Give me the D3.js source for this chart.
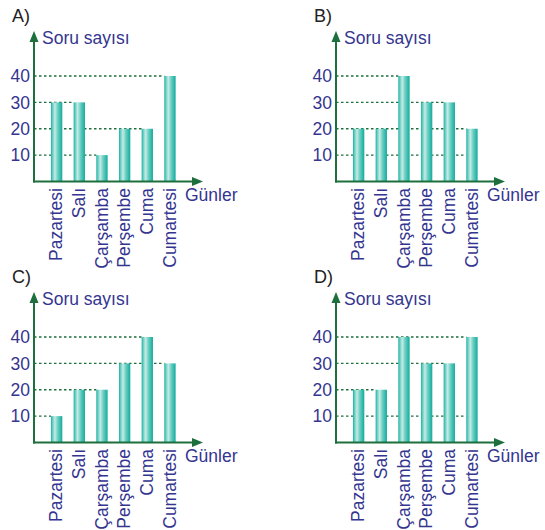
<!DOCTYPE html>
<html>
<head>
<meta charset="utf-8">
<script src="https://cdn.jsdelivr.net/npm/d3@7"></script>
<style>
  body { margin: 0; background: #fff; }
  svg { display: block; font-family: "Liberation Sans", Arial, sans-serif; }
</style>
</head>
<body>
<svg id="chart" width="545" height="530"></svg>
<script>
const days = ['Pazartesi', 'Salı', 'Çarşamba', 'Perşembe', 'Cuma', 'Cumartesi'];
const panelNames = ['A)', 'B)', 'C)', 'D)'];
const valuesA = [30, 30, 10, 20, 20, 40];
const valuesB = [20, 20, 40, 30, 30, 20];
const valuesC = [10, 20, 20, 30, 40, 30];
const valuesD = [20, 20, 40, 30, 30, 40];
const yTicks = [10, 20, 30, 40];

const ink = '#34358f';
const green = '#1d6f3d';
const fs = 17.5;

const svg = d3.select('#chart');

// bar shading, dark teal edges with a light stripe
const grad = svg.append('defs').append('linearGradient')
  .attr('id', 'bar').attr('x1', 0).attr('x2', 1).attr('y1', 0).attr('y2', 0);
[[0, '#17b0a2'], [0.12, '#5ccabd'], [0.35, '#c6ebe6'], [0.6, '#6ccfc3'], [1, '#12ab9d']]
  .forEach(([o, c]) => grad.append('stop').attr('offset', o).attr('stop-color', c));

const ax = 34, base = 181.5;
const x = d3.scaleBand().domain(days).range([ax + 11.3, ax + 147.3]).paddingInner(0.5).paddingOuter(0.25);
const y = d3.scaleLinear().domain([0, 40]).range([base, 76]);

const drawPanel = function(g, name, vals) {
  g.append('text').attr('x', 12).attr('y', 22)
    .attr('font-size', 18).attr('fill', '#222').text(name);

  // dotted lines run to the last bar of that height, otherwise to the last bar
  yTicks.forEach(t => {
    let idx = vals.lastIndexOf(t);
    if (idx < 0) idx = days.length - 1;
    g.append('line')
      .attr('x1', ax).attr('x2', x(days[idx]))
      .attr('y1', y(t)).attr('y2', y(t))
      .attr('stroke', green).attr('stroke-width', 1.4)
      .attr('stroke-dasharray', '2.5,2.5');
  });

  g.selectAll('rect.bar')
    .data(vals)
    .enter()
    .append('rect')
    .attr('class', 'bar')
    .attr('x', (d, i) => x(days[i]))
    .attr('width', x.bandwidth())
    .attr('y', d => y(d))
    .attr('height', d => base - y(d))
    .attr('fill', 'url(#bar)');

  g.selectAll('text.tick')
    .data(yTicks)
    .enter()
    .append('text')
    .attr('class', 'tick')
    .attr('x', ax - 4).attr('y', d => y(d))
    .attr('dy', '0.36em')
    .attr('text-anchor', 'end')
    .attr('font-size', fs).attr('fill', ink)
    .text(d => d);

  // axes with arrowheads
  g.append('line').attr('x1', ax).attr('x2', ax).attr('y1', base + 1).attr('y2', 40)
    .attr('stroke', green).attr('stroke-width', 2);
  g.append('path').attr('d', `M${ax - 4.5},${42} L${ax},${31} L${ax + 4.5},${42} Z`).attr('fill', green);
  g.append('line').attr('x1', ax - 1).attr('x2', ax + 160).attr('y1', base).attr('y2', base)
    .attr('stroke', green).attr('stroke-width', 2);
  g.append('path').attr('d', `M${ax + 158},${base - 4.5} L${ax + 169},${base} L${ax + 158},${base + 4.5} Z`).attr('fill', green);

  g.append('text').attr('x', 42).attr('y', 44)
    .attr('font-size', fs).attr('fill', ink).text('Soru sayısı');
  g.append('text').attr('x', 185).attr('y', 201)
    .attr('font-size', fs).attr('fill', ink).text('Günler');

  g.selectAll('text.day')
    .data(days)
    .enter()
    .append('text')
    .attr('class', 'day')
    .attr('transform', d => `translate(${x(d) + x.bandwidth() / 2},188) rotate(-90)`)
    .attr('dy', '0.33em')
    .attr('text-anchor', 'end')
    .attr('font-size', fs).attr('fill', ink)
    .text(d => d);
}

const panels = [[0, 0, valuesA], [302, 0, valuesB], [0, 261, valuesC], [302, 261, valuesD]];
panels.forEach(([px, py, vals], i) => {
  drawPanel(svg.append('g').attr('transform', `translate(${px},${py})`), panelNames[i], vals);
});
</script>
</body>
</html>
